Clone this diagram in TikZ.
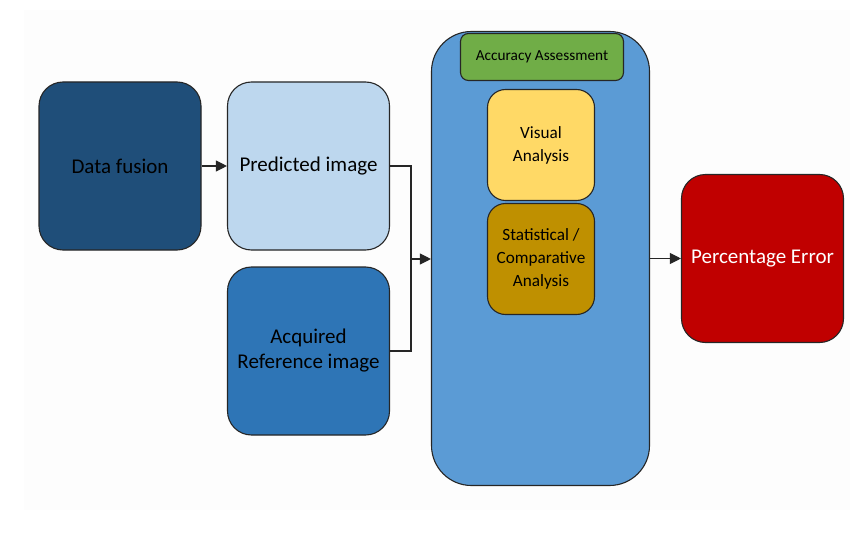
\documentclass[tikz,border=0pt]{standalone}
\usepackage{fontspec}
\setmainfont{Carlito}
\usetikzlibrary{arrows.meta}

\definecolor{fusionblue}{HTML}{1F4E79}
\definecolor{predblue}{HTML}{BDD7EE}
\definecolor{acqblue}{HTML}{2E75B6}
\definecolor{assessblue}{HTML}{5B9BD5}
\definecolor{assessgreen}{HTML}{70AD47}
\definecolor{visyellow}{HTML}{FFD966}
\definecolor{statgold}{HTML}{BF9000}
\definecolor{errred}{HTML}{C00000}

\tikzset{
  block/.style={draw=black!85, line width=1.1pt, rounded corners=24pt, align=center,
    inner sep=2pt, minimum width=162pt, minimum height=168pt, font=\fontsize{21}{25}\selectfont},
  subblock/.style={block, rounded corners=18pt, minimum width=107pt, minimum height=111pt,
    font=\fontsize{17.2}{23}\selectfont},
  link/.style={draw=black!85, line width=1.1pt},
  arrowlink/.style={link, -{Triangle[length=11pt,width=11pt]}}
}

\begin{document}
\begin{tikzpicture}[x=1pt, y=-1pt]
  \useasboundingbox (0,0) rectangle (853,540);
  % faint page
  \fill[black!0.6] (24,10) rectangle (850,510);

  % Inputs
  \node[block, fill=fusionblue] (fusion) at (120,166) {Data fusion};
  \node[block, fill=predblue] (pred) at (308.5,166) {Predicted image};
  \node[block, fill=acqblue] (acq) at (308.5,351) {Acquired\\Reference image};

  % Assessment panel
  \node[block, fill=assessblue, rounded corners=40pt, minimum width=218pt,
    minimum height=454pt] (assess) at (540.5,258.5) {};
  \node[block, fill=assessgreen, rounded corners=8pt, minimum width=163pt,
    minimum height=47pt, font=\fontsize{15.3}{18}\selectfont] (acc) at (542,57) {Accuracy Assessment};
  \node[subblock, fill=visyellow] (visual) at (541,145) {Visual\\Analysis};
  \node[subblock, fill=statgold] (stat) at (541,259) {Statistical /\\Comparative\\Analysis};

  % Output
  \node[block, fill=errred, text=white] (err) at (762.5,258.5) {Percentage Error};

  % Connections
  \coordinate (join) at (411,259);
  \draw[arrowlink] (fusion) -- (pred);
  \draw[link] (pred.east) -| (join);
  \draw[link] (acq.east) -| (join);
  \draw[arrowlink] (join) -- (assess.west |- join);
  \draw[arrowlink] (assess.east |- err.west) -- (err.west);
\end{tikzpicture}
\end{document}
